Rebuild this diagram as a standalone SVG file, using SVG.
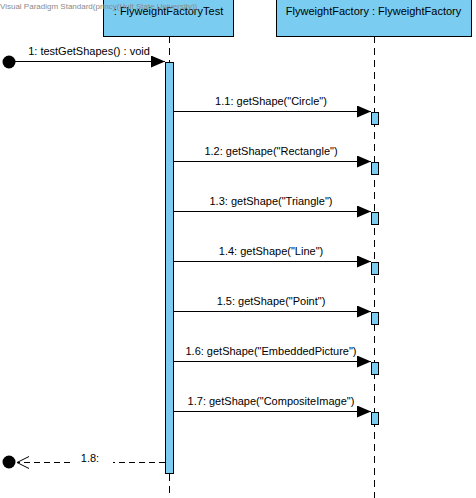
<svg xmlns="http://www.w3.org/2000/svg" width="476" height="498" viewBox="0 0 476 498">
<style>
text{font-family:"Liberation Sans",Arial,sans-serif;font-size:11px;fill:#000}
.hdr{fill:#7ACDF0;stroke:#000;stroke-width:1}
.act{fill:#7ACDF0;stroke:#000;stroke-width:1}
.life{stroke:#000;stroke-width:1;stroke-dasharray:7,5;fill:none}
.msg{stroke:#000;stroke-width:1;fill:none}
.ret{stroke:#000;stroke-width:1;fill:none;stroke-dasharray:6,4}
.wm{font-size:8px;fill:#8a8a8a}
</style>
<defs>
<marker id="fill" markerWidth="15" markerHeight="12" refX="14" refY="6" orient="auto" markerUnits="userSpaceOnUse">
<path d="M0,0 L14,6 L0,12 Z" fill="#000"/>
</marker>
</defs>
<rect width="476" height="498" fill="#fff"/>
<g id="lifelines">
<line class="life" x1="169.5" y1="36" x2="169.5" y2="63"/>
<line class="life" x1="169.5" y1="474" x2="169.5" y2="498"/>
<line class="life" x1="374.5" y1="36" x2="374.5" y2="498"/>
</g>
<g id="FlyweightFactoryTest">
<rect class="hdr" x="103.5" y="-1" width="130" height="37.5"/>
<text x="168.5" y="15" text-anchor="middle">: FlyweightFactoryTest</text>
<rect class="act" x="165.5" y="62.5" width="8" height="411"/>
</g>
<g id="FlyweightFactory">
<rect class="hdr" x="276.5" y="-1" width="195" height="37.5"/>
<text x="373.5" y="15" text-anchor="middle">FlyweightFactory : FlyweightFactory</text>
<rect class="act" x="371.5" y="112.5" width="7" height="12"/>
<rect class="act" x="371.5" y="162.5" width="7" height="12"/>
<rect class="act" x="371.5" y="212.5" width="7" height="12"/>
<rect class="act" x="371.5" y="262.5" width="7" height="12"/>
<rect class="act" x="371.5" y="312.5" width="7" height="12"/>
<rect class="act" x="371.5" y="362.5" width="7" height="12"/>
<rect class="act" x="371.5" y="412.5" width="7" height="12"/>
</g>
<g id="start">
<circle cx="9" cy="62" r="6.5" fill="#000"/>
</g>
<g id="end">
<circle cx="9" cy="462" r="6.5" fill="#000"/>
</g>
<g id="connectors">
<line class="msg" x1="9" y1="61.5" x2="165" y2="61.5" marker-end="url(#fill)"/>
<text x="89" y="55" text-anchor="middle">1: testGetShapes() : void</text>
<line class="msg" x1="174" y1="111.5" x2="371" y2="111.5" marker-end="url(#fill)"/>
<text x="271" y="105" text-anchor="middle">1.1: getShape("Circle")</text>
<line class="msg" x1="174" y1="161.5" x2="371" y2="161.5" marker-end="url(#fill)"/>
<text x="271" y="155" text-anchor="middle">1.2: getShape("Rectangle")</text>
<line class="msg" x1="174" y1="211.5" x2="371" y2="211.5" marker-end="url(#fill)"/>
<text x="271" y="205" text-anchor="middle">1.3: getShape("Triangle")</text>
<line class="msg" x1="174" y1="261.5" x2="371" y2="261.5" marker-end="url(#fill)"/>
<text x="271" y="255" text-anchor="middle">1.4: getShape("Line")</text>
<line class="msg" x1="174" y1="311.5" x2="371" y2="311.5" marker-end="url(#fill)"/>
<text x="271" y="305" text-anchor="middle">1.5: getShape("Point")</text>
<line class="msg" x1="174" y1="361.5" x2="371" y2="361.5" marker-end="url(#fill)"/>
<text x="271" y="355" text-anchor="middle">1.6: getShape("EmbeddedPicture")</text>
<line class="msg" x1="174" y1="411.5" x2="371" y2="411.5" marker-end="url(#fill)"/>
<text x="271" y="405" text-anchor="middle">1.7: getShape("CompositeImage")</text>
<path class="ret" d="M165,462.5 L113,462.5 M70,462.5 L17,462.5"/>
<path class="msg" d="M29,456.5 L17,462.5 L29,468.5"/>
<text x="90" y="461.5" text-anchor="middle">1.8:</text>
</g>
<text class="wm" x="0" y="9">Visual Paradigm Standard(princy(Hult State University))</text>
</svg>
